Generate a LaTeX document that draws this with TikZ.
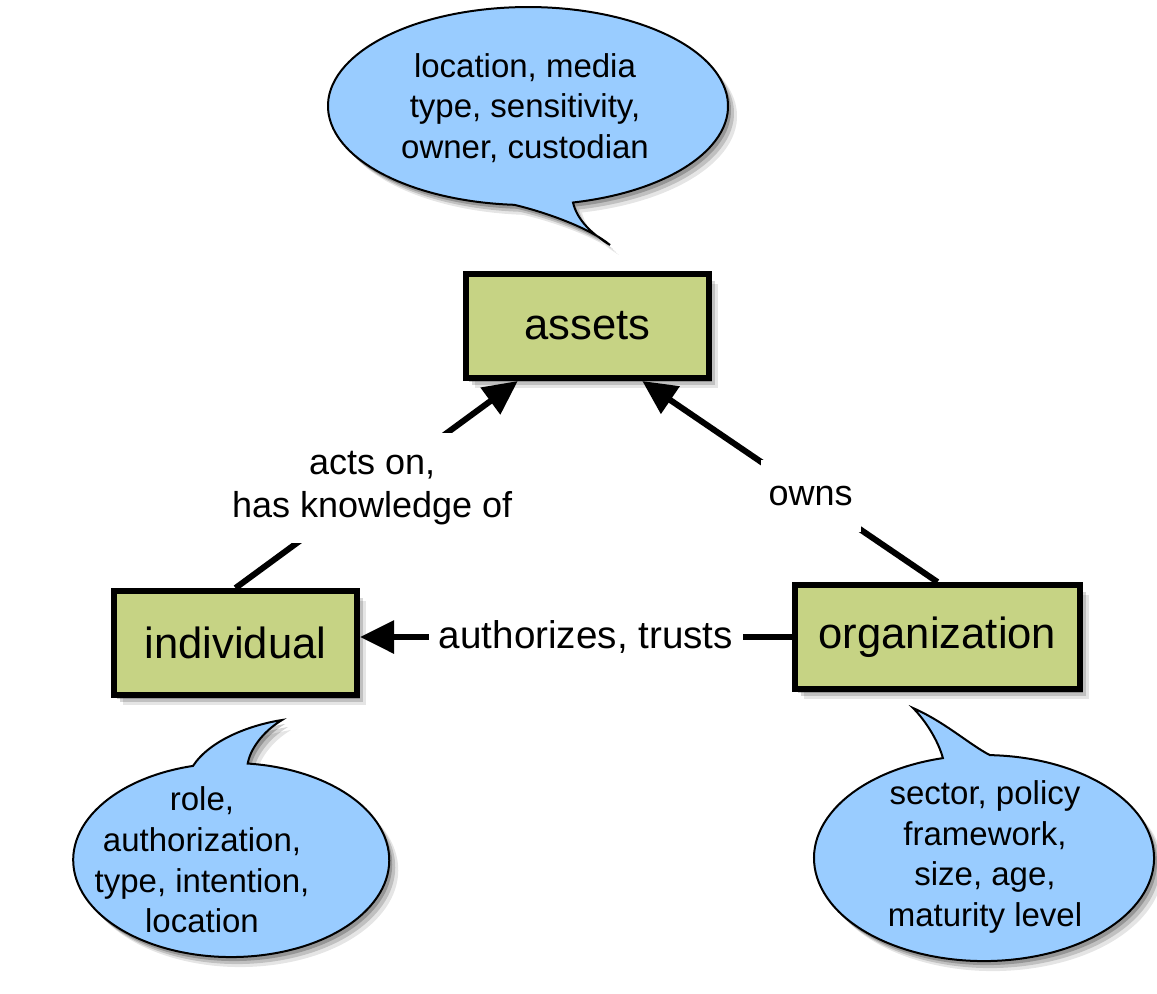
\documentclass[tikz,border=0pt]{standalone}
\usepackage{fontspec}
\setmainfont{Liberation Sans}
\usetikzlibrary{arrows.meta,shadows,calc}
\definecolor{boxgreen}{HTML}{C6D384}
\definecolor{bubbleblue}{HTML}{99CCFF}
\begin{document}
\begin{tikzpicture}[x=0.5pt,y=0.5pt,
  softshadow/.style={
    drop shadow={shadow xshift=1.5pt,shadow yshift=-2pt,opacity=0.22,fill=black},
    drop shadow={shadow xshift=3pt,shadow yshift=-3.5pt,opacity=0.16,fill=black},
    drop shadow={shadow xshift=4.5pt,shadow yshift=-5pt,opacity=0.10,fill=black}},
  entity/.style={draw=black, line width=3pt, fill=boxgreen, minimum height=52pt,
    font=\fontsize{21.8}{25}\selectfont, softshadow},
  bubble/.style={draw=black, line width=1pt, fill=bubbleblue, softshadow},
  bubbletext/.style={align=center, font=\fontsize{16.5}{20.3}\selectfont},
  conn/.style={line width=3pt, -{Triangle[length=17pt,width=16pt]}},
  elabel/.style={fill=white, font=\fontsize{18}{21.5}\selectfont, align=center,
    inner xsep=5pt, inner ysep=3pt}
]
\useasboundingbox (0,0) rectangle (1157,-993);

% speech bubbles
\path[bubble] (610,-245) .. controls (592,-234) and (577,-220) .. (573,-202.5)
  arc[start angle=283, end angle=626, x radius=200, y radius=99]
  .. controls (545,-212) and (590,-228) .. (610,-245) -- cycle;
\node[bubbletext] (tassets) at (525,-108) {location, media\\type, sensitivity,\\owner, custodian};

\path[bubble] (282,-720) .. controls (250,-725) and (210,-740) .. (193,-765.9)
  arc[start angle=104, end angle=444, x radius=158, y radius=97]
  .. controls (250,-750) and (262,-732) .. (282,-720) -- cycle;
\node[bubbletext] (tind) at (202,-860) {role,\\authorization,\\type, intention,\\location};

\path[bubble] (913,-708) .. controls (925,-720) and (938,-740) .. (942.9,-758.1)
  arc[start angle=104, end angle=448, x radius=170, y radius=103]
  .. controls (970,-745) and (945,-722) .. (913,-708) -- cycle;
\node[bubbletext] (torg) at (985,-857) {sector, policy\\framework,\\size, age,\\maturity level};

% entities
\node[entity, minimum width=121.5pt] (assets) at (587.5,-326) {assets};
\node[entity, minimum width=121.5pt] (ind) at (235.5,-643) {individual};
\node[entity, minimum width=142.5pt] (org) at (937.5,-637) {organization};

% connectors
\coordinate (aL) at ($(assets.south west)!0.22!(assets.south east)$);
\coordinate (aR) at ($(assets.south west)!0.72!(assets.south east)$);

\draw[conn] (ind.north) -- node[elabel, pos=0.484, inner ysep=9pt] (l1) {acts on,\\has knowledge of} (aL);
\draw[conn] (org.north) -- node[elabel, pos=0.43, minimum height=36pt, inner xsep=4pt] (l2) {owns} (aR);
\draw[conn] (org.west) -- node[elabel, pos=0.477, inner xsep=5pt, font=\fontsize{19.3}{23}\selectfont] (l3) {authorizes, trusts} (org.west -| ind.east);
\end{tikzpicture}
\end{document}
